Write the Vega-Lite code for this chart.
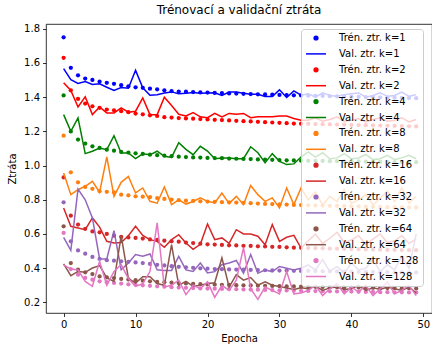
{
"$schema": "https://vega.github.io/schema/vega-lite/v6.json",
"autosize": "none",
"width": 386, "height": 289,
"padding": {"left": 46, "top": 24, "right": 0, "bottom": 33},
"background": "white",
"title": {"text": "Trénovací a validační ztráta", "font": "DejaVu Sans", "fontSize": 12, "fontWeight": "normal", "color": "black", "offset": 7, "anchor": "middle", "frame": "group"},
"data": {"values": [
{"s":"t1","e":0,"v":1.75},{"s":"t1","e":1,"v":1.572},{"s":"t1","e":2,"v":1.528},{"s":"t1","e":3,"v":1.509},{"s":"t1","e":4,"v":1.501},{"s":"t1","e":5,"v":1.491},{"s":"t1","e":6,"v":1.484},{"s":"t1","e":7,"v":1.478},{"s":"t1","e":8,"v":1.47},{"s":"t1","e":9,"v":1.464},{"s":"t1","e":10,"v":1.458},{"s":"t1","e":11,"v":1.455},{"s":"t1","e":12,"v":1.45},{"s":"t1","e":13,"v":1.446},{"s":"t1","e":14,"v":1.44},{"s":"t1","e":15,"v":1.435},{"s":"t1","e":16,"v":1.433},{"s":"t1","e":17,"v":1.432},{"s":"t1","e":18,"v":1.43},{"s":"t1","e":19,"v":1.428},{"s":"t1","e":20,"v":1.427},{"s":"t1","e":21,"v":1.425},{"s":"t1","e":22,"v":1.424},{"s":"t1","e":23,"v":1.422},{"s":"t1","e":24,"v":1.421},{"s":"t1","e":25,"v":1.42},{"s":"t1","e":26,"v":1.418},{"s":"t1","e":27,"v":1.417},{"s":"t1","e":28,"v":1.416},{"s":"t1","e":29,"v":1.415},{"s":"t1","e":30,"v":1.413},{"s":"t1","e":31,"v":1.412},{"s":"t1","e":32,"v":1.411},{"s":"t1","e":33,"v":1.41},{"s":"t1","e":34,"v":1.409},{"s":"t1","e":35,"v":1.408},{"s":"t1","e":36,"v":1.407},{"s":"t1","e":37,"v":1.406},{"s":"t1","e":38,"v":1.405},{"s":"t1","e":39,"v":1.404},{"s":"t1","e":40,"v":1.403},{"s":"t1","e":41,"v":1.402},{"s":"t1","e":42,"v":1.401},{"s":"t1","e":43,"v":1.4},{"s":"t1","e":44,"v":1.399},{"s":"t1","e":45,"v":1.398},{"s":"t1","e":46,"v":1.397},{"s":"t1","e":47,"v":1.396},{"s":"t1","e":48,"v":1.395},{"s":"t1","e":49,"v":1.394},
{"s":"v1","e":0,"v":1.567},{"s":"v1","e":1,"v":1.503},{"s":"v1","e":2,"v":1.48},{"s":"v1","e":3,"v":1.491},{"s":"v1","e":4,"v":1.474},{"s":"v1","e":5,"v":1.478},{"s":"v1","e":6,"v":1.458},{"s":"v1","e":7,"v":1.439},{"s":"v1","e":8,"v":1.456},{"s":"v1","e":9,"v":1.452},{"s":"v1","e":10,"v":1.557},{"s":"v1","e":11,"v":1.455},{"s":"v1","e":12,"v":1.411},{"s":"v1","e":13,"v":1.414},{"s":"v1","e":14,"v":1.425},{"s":"v1","e":15,"v":1.431},{"s":"v1","e":16,"v":1.42},{"s":"v1","e":17,"v":1.423},{"s":"v1","e":18,"v":1.428},{"s":"v1","e":19,"v":1.423},{"s":"v1","e":20,"v":1.425},{"s":"v1","e":21,"v":1.426},{"s":"v1","e":22,"v":1.41},{"s":"v1","e":23,"v":1.43},{"s":"v1","e":24,"v":1.43},{"s":"v1","e":25,"v":1.423},{"s":"v1","e":26,"v":1.417},{"s":"v1","e":27,"v":1.417},{"s":"v1","e":28,"v":1.404},{"s":"v1","e":29,"v":1.404},{"s":"v1","e":30,"v":1.443},{"s":"v1","e":31,"v":1.398},{"s":"v1","e":32,"v":1.437},{"s":"v1","e":33,"v":1.412},{"s":"v1","e":34,"v":1.42},{"s":"v1","e":35,"v":1.4},{"s":"v1","e":36,"v":1.425},{"s":"v1","e":37,"v":1.41},{"s":"v1","e":38,"v":1.405},{"s":"v1","e":39,"v":1.415},{"s":"v1","e":40,"v":1.42},{"s":"v1","e":41,"v":1.425},{"s":"v1","e":42,"v":1.4},{"s":"v1","e":43,"v":1.41},{"s":"v1","e":44,"v":1.425},{"s":"v1","e":45,"v":1.405},{"s":"v1","e":46,"v":1.41},{"s":"v1","e":47,"v":1.43},{"s":"v1","e":48,"v":1.405},{"s":"v1","e":49,"v":1.415},
{"s":"t2","e":0,"v":1.63},{"s":"t2","e":1,"v":1.44},{"s":"t2","e":2,"v":1.39},{"s":"t2","e":3,"v":1.363},{"s":"t2","e":4,"v":1.347},{"s":"t2","e":5,"v":1.338},{"s":"t2","e":6,"v":1.328},{"s":"t2","e":7,"v":1.323},{"s":"t2","e":8,"v":1.318},{"s":"t2","e":9,"v":1.312},{"s":"t2","e":10,"v":1.304},{"s":"t2","e":11,"v":1.3},{"s":"t2","e":12,"v":1.294},{"s":"t2","e":13,"v":1.29},{"s":"t2","e":14,"v":1.283},{"s":"t2","e":15,"v":1.281},{"s":"t2","e":16,"v":1.278},{"s":"t2","e":17,"v":1.276},{"s":"t2","e":18,"v":1.274},{"s":"t2","e":19,"v":1.272},{"s":"t2","e":20,"v":1.27},{"s":"t2","e":21,"v":1.268},{"s":"t2","e":22,"v":1.266},{"s":"t2","e":23,"v":1.264},{"s":"t2","e":24,"v":1.262},{"s":"t2","e":25,"v":1.26},{"s":"t2","e":26,"v":1.258},{"s":"t2","e":27,"v":1.256},{"s":"t2","e":28,"v":1.254},{"s":"t2","e":29,"v":1.252},{"s":"t2","e":30,"v":1.25},{"s":"t2","e":31,"v":1.248},{"s":"t2","e":32,"v":1.246},{"s":"t2","e":33,"v":1.245},{"s":"t2","e":34,"v":1.244},{"s":"t2","e":35,"v":1.243},{"s":"t2","e":36,"v":1.242},{"s":"t2","e":37,"v":1.241},{"s":"t2","e":38,"v":1.24},{"s":"t2","e":39,"v":1.239},{"s":"t2","e":40,"v":1.238},{"s":"t2","e":41,"v":1.237},{"s":"t2","e":42,"v":1.236},{"s":"t2","e":43,"v":1.235},{"s":"t2","e":44,"v":1.234},{"s":"t2","e":45,"v":1.233},{"s":"t2","e":46,"v":1.232},{"s":"t2","e":47,"v":1.231},{"s":"t2","e":48,"v":1.23},{"s":"t2","e":49,"v":1.229},
{"s":"v2","e":0,"v":1.484},{"s":"v2","e":1,"v":1.439},{"s":"v2","e":2,"v":1.343},{"s":"v2","e":3,"v":1.402},{"s":"v2","e":4,"v":1.298},{"s":"v2","e":5,"v":1.343},{"s":"v2","e":6,"v":1.308},{"s":"v2","e":7,"v":1.308},{"s":"v2","e":8,"v":1.338},{"s":"v2","e":9,"v":1.312},{"s":"v2","e":10,"v":1.318},{"s":"v2","e":11,"v":1.396},{"s":"v2","e":12,"v":1.298},{"s":"v2","e":13,"v":1.298},{"s":"v2","e":14,"v":1.4},{"s":"v2","e":15,"v":1.351},{"s":"v2","e":16,"v":1.3},{"s":"v2","e":17,"v":1.29},{"s":"v2","e":18,"v":1.31},{"s":"v2","e":19,"v":1.285},{"s":"v2","e":20,"v":1.28},{"s":"v2","e":21,"v":1.305},{"s":"v2","e":22,"v":1.285},{"s":"v2","e":23,"v":1.305},{"s":"v2","e":24,"v":1.3},{"s":"v2","e":25,"v":1.305},{"s":"v2","e":26,"v":1.28},{"s":"v2","e":27,"v":1.285},{"s":"v2","e":28,"v":1.285},{"s":"v2","e":29,"v":1.285},{"s":"v2","e":30,"v":1.29},{"s":"v2","e":31,"v":1.29},{"s":"v2","e":32,"v":1.275},{"s":"v2","e":33,"v":1.265},{"s":"v2","e":34,"v":1.265},{"s":"v2","e":35,"v":1.28},{"s":"v2","e":36,"v":1.26},{"s":"v2","e":37,"v":1.27},{"s":"v2","e":38,"v":1.285},{"s":"v2","e":39,"v":1.26},{"s":"v2","e":40,"v":1.265},{"s":"v2","e":41,"v":1.275},{"s":"v2","e":42,"v":1.255},{"s":"v2","e":43,"v":1.27},{"s":"v2","e":44,"v":1.28},{"s":"v2","e":45,"v":1.26},{"s":"v2","e":46,"v":1.265},{"s":"v2","e":47,"v":1.28},{"s":"v2","e":48,"v":1.255},{"s":"v2","e":49,"v":1.27},
{"s":"t4","e":0,"v":1.41},{"s":"t4","e":1,"v":1.2},{"s":"t4","e":2,"v":1.152},{"s":"t4","e":3,"v":1.129},{"s":"t4","e":4,"v":1.113},{"s":"t4","e":5,"v":1.103},{"s":"t4","e":6,"v":1.093},{"s":"t4","e":7,"v":1.087},{"s":"t4","e":8,"v":1.08},{"s":"t4","e":9,"v":1.076},{"s":"t4","e":10,"v":1.072},{"s":"t4","e":11,"v":1.068},{"s":"t4","e":12,"v":1.064},{"s":"t4","e":13,"v":1.061},{"s":"t4","e":14,"v":1.058},{"s":"t4","e":15,"v":1.055},{"s":"t4","e":16,"v":1.052},{"s":"t4","e":17,"v":1.05},{"s":"t4","e":18,"v":1.048},{"s":"t4","e":19,"v":1.047},{"s":"t4","e":20,"v":1.045},{"s":"t4","e":21,"v":1.044},{"s":"t4","e":22,"v":1.043},{"s":"t4","e":23,"v":1.041},{"s":"t4","e":24,"v":1.04},{"s":"t4","e":25,"v":1.039},{"s":"t4","e":26,"v":1.038},{"s":"t4","e":27,"v":1.036},{"s":"t4","e":28,"v":1.035},{"s":"t4","e":29,"v":1.034},{"s":"t4","e":30,"v":1.032},{"s":"t4","e":31,"v":1.031},{"s":"t4","e":32,"v":1.03},{"s":"t4","e":33,"v":1.029},{"s":"t4","e":34,"v":1.028},{"s":"t4","e":35,"v":1.028},{"s":"t4","e":36,"v":1.027},{"s":"t4","e":37,"v":1.026},{"s":"t4","e":38,"v":1.026},{"s":"t4","e":39,"v":1.025},{"s":"t4","e":40,"v":1.025},{"s":"t4","e":41,"v":1.024},{"s":"t4","e":42,"v":1.023},{"s":"t4","e":43,"v":1.023},{"s":"t4","e":44,"v":1.022},{"s":"t4","e":45,"v":1.022},{"s":"t4","e":46,"v":1.021},{"s":"t4","e":47,"v":1.021},{"s":"t4","e":48,"v":1.02},{"s":"t4","e":49,"v":1.02},
{"s":"v4","e":0,"v":1.298},{"s":"v4","e":1,"v":1.2},{"s":"v4","e":2,"v":1.279},{"s":"v4","e":3,"v":1.07},{"s":"v4","e":4,"v":1.084},{"s":"v4","e":5,"v":1.103},{"s":"v4","e":6,"v":1.093},{"s":"v4","e":7,"v":1.175},{"s":"v4","e":8,"v":1.074},{"s":"v4","e":9,"v":1.074},{"s":"v4","e":10,"v":1.041},{"s":"v4","e":11,"v":1.069},{"s":"v4","e":12,"v":1.063},{"s":"v4","e":13,"v":1.084},{"s":"v4","e":14,"v":1.054},{"s":"v4","e":15,"v":1.048},{"s":"v4","e":16,"v":1.134},{"s":"v4","e":17,"v":1.095},{"s":"v4","e":18,"v":1.064},{"s":"v4","e":19,"v":1.113},{"s":"v4","e":20,"v":1.085},{"s":"v4","e":21,"v":1.04},{"s":"v4","e":22,"v":1.045},{"s":"v4","e":23,"v":1.045},{"s":"v4","e":24,"v":1.04},{"s":"v4","e":25,"v":1.04},{"s":"v4","e":26,"v":1.11},{"s":"v4","e":27,"v":1.075},{"s":"v4","e":28,"v":1.016},{"s":"v4","e":29,"v":1.07},{"s":"v4","e":30,"v":1.025},{"s":"v4","e":31,"v":1.006},{"s":"v4","e":32,"v":1.01},{"s":"v4","e":33,"v":1.05},{"s":"v4","e":34,"v":1.08},{"s":"v4","e":35,"v":1.05},{"s":"v4","e":36,"v":1.075},{"s":"v4","e":37,"v":1.04},{"s":"v4","e":38,"v":1.045},{"s":"v4","e":39,"v":1.07},{"s":"v4","e":40,"v":1.04},{"s":"v4","e":41,"v":1.045},{"s":"v4","e":42,"v":1.065},{"s":"v4","e":43,"v":1.035},{"s":"v4","e":44,"v":1.04},{"s":"v4","e":45,"v":1.06},{"s":"v4","e":46,"v":1.035},{"s":"v4","e":47,"v":1.045},{"s":"v4","e":48,"v":1.06},{"s":"v4","e":49,"v":1.04},
{"s":"t8","e":0,"v":1.175},{"s":"t8","e":1,"v":0.961},{"s":"t8","e":2,"v":0.902},{"s":"t8","e":3,"v":0.875},{"s":"t8","e":4,"v":0.864},{"s":"t8","e":5,"v":0.85},{"s":"t8","e":6,"v":0.847},{"s":"t8","e":7,"v":0.843},{"s":"t8","e":8,"v":0.83},{"s":"t8","e":9,"v":0.826},{"s":"t8","e":10,"v":0.82},{"s":"t8","e":11,"v":0.818},{"s":"t8","e":12,"v":0.815},{"s":"t8","e":13,"v":0.81},{"s":"t8","e":14,"v":0.805},{"s":"t8","e":15,"v":0.801},{"s":"t8","e":16,"v":0.798},{"s":"t8","e":17,"v":0.795},{"s":"t8","e":18,"v":0.793},{"s":"t8","e":19,"v":0.791},{"s":"t8","e":20,"v":0.79},{"s":"t8","e":21,"v":0.788},{"s":"t8","e":22,"v":0.786},{"s":"t8","e":23,"v":0.785},{"s":"t8","e":24,"v":0.784},{"s":"t8","e":25,"v":0.782},{"s":"t8","e":26,"v":0.78},{"s":"t8","e":27,"v":0.778},{"s":"t8","e":28,"v":0.776},{"s":"t8","e":29,"v":0.775},{"s":"t8","e":30,"v":0.773},{"s":"t8","e":31,"v":0.772},{"s":"t8","e":32,"v":0.77},{"s":"t8","e":33,"v":0.769},{"s":"t8","e":34,"v":0.768},{"s":"t8","e":35,"v":0.767},{"s":"t8","e":36,"v":0.766},{"s":"t8","e":37,"v":0.765},{"s":"t8","e":38,"v":0.764},{"s":"t8","e":39,"v":0.763},{"s":"t8","e":40,"v":0.762},{"s":"t8","e":41,"v":0.761},{"s":"t8","e":42,"v":0.76},{"s":"t8","e":43,"v":0.759},{"s":"t8","e":44,"v":0.758},{"s":"t8","e":45,"v":0.757},{"s":"t8","e":46,"v":0.757},{"s":"t8","e":47,"v":0.756},{"s":"t8","e":48,"v":0.755},{"s":"t8","e":49,"v":0.755},
{"s":"v8","e":0,"v":0.957},{"s":"v8","e":1,"v":0.83},{"s":"v8","e":2,"v":0.859},{"s":"v8","e":3,"v":0.879},{"s":"v8","e":4,"v":0.908},{"s":"v8","e":5,"v":0.844},{"s":"v8","e":6,"v":1.051},{"s":"v8","e":7,"v":0.82},{"s":"v8","e":8,"v":0.902},{"s":"v8","e":9,"v":0.937},{"s":"v8","e":10,"v":0.84},{"s":"v8","e":11,"v":0.869},{"s":"v8","e":12,"v":0.791},{"s":"v8","e":13,"v":0.78},{"s":"v8","e":14,"v":0.875},{"s":"v8","e":15,"v":0.772},{"s":"v8","e":16,"v":0.8},{"s":"v8","e":17,"v":0.775},{"s":"v8","e":18,"v":0.79},{"s":"v8","e":19,"v":0.811},{"s":"v8","e":20,"v":0.791},{"s":"v8","e":21,"v":0.782},{"s":"v8","e":22,"v":0.84},{"s":"v8","e":23,"v":0.778},{"s":"v8","e":24,"v":0.82},{"s":"v8","e":25,"v":0.772},{"s":"v8","e":26,"v":0.883},{"s":"v8","e":27,"v":0.83},{"s":"v8","e":28,"v":0.791},{"s":"v8","e":29,"v":0.811},{"s":"v8","e":30,"v":0.752},{"s":"v8","e":31,"v":0.869},{"s":"v8","e":32,"v":0.772},{"s":"v8","e":33,"v":0.869},{"s":"v8","e":34,"v":0.8},{"s":"v8","e":35,"v":0.845},{"s":"v8","e":36,"v":0.77},{"s":"v8","e":37,"v":0.82},{"s":"v8","e":38,"v":0.79},{"s":"v8","e":39,"v":0.86},{"s":"v8","e":40,"v":0.78},{"s":"v8","e":41,"v":0.8},{"s":"v8","e":42,"v":0.83},{"s":"v8","e":43,"v":0.77},{"s":"v8","e":44,"v":0.81},{"s":"v8","e":45,"v":0.85},{"s":"v8","e":46,"v":0.79},{"s":"v8","e":47,"v":0.87},{"s":"v8","e":48,"v":0.78},{"s":"v8","e":49,"v":0.82},
{"s":"t16","e":0,"v":0.931},{"s":"t16","e":1,"v":0.707},{"s":"t16","e":2,"v":0.655},{"s":"t16","e":3,"v":0.63},{"s":"t16","e":4,"v":0.615},{"s":"t16","e":5,"v":0.61},{"s":"t16","e":6,"v":0.6},{"s":"t16","e":7,"v":0.59},{"s":"t16","e":8,"v":0.583},{"s":"t16","e":9,"v":0.58},{"s":"t16","e":10,"v":0.577},{"s":"t16","e":11,"v":0.573},{"s":"t16","e":12,"v":0.568},{"s":"t16","e":13,"v":0.565},{"s":"t16","e":14,"v":0.561},{"s":"t16","e":15,"v":0.557},{"s":"t16","e":16,"v":0.555},{"s":"t16","e":17,"v":0.55},{"s":"t16","e":18,"v":0.547},{"s":"t16","e":19,"v":0.543},{"s":"t16","e":20,"v":0.54},{"s":"t16","e":21,"v":0.538},{"s":"t16","e":22,"v":0.536},{"s":"t16","e":23,"v":0.534},{"s":"t16","e":24,"v":0.533},{"s":"t16","e":25,"v":0.531},{"s":"t16","e":26,"v":0.53},{"s":"t16","e":27,"v":0.528},{"s":"t16","e":28,"v":0.527},{"s":"t16","e":29,"v":0.525},{"s":"t16","e":30,"v":0.524},{"s":"t16","e":31,"v":0.522},{"s":"t16","e":32,"v":0.52},{"s":"t16","e":33,"v":0.519},{"s":"t16","e":34,"v":0.518},{"s":"t16","e":35,"v":0.517},{"s":"t16","e":36,"v":0.516},{"s":"t16","e":37,"v":0.515},{"s":"t16","e":38,"v":0.514},{"s":"t16","e":39,"v":0.513},{"s":"t16","e":40,"v":0.512},{"s":"t16","e":41,"v":0.511},{"s":"t16","e":42,"v":0.51},{"s":"t16","e":43,"v":0.509},{"s":"t16","e":44,"v":0.508},{"s":"t16","e":45,"v":0.507},{"s":"t16","e":46,"v":0.507},{"s":"t16","e":47,"v":0.506},{"s":"t16","e":48,"v":0.505},{"s":"t16","e":49,"v":0.505},
{"s":"v16","e":0,"v":0.752},{"s":"v16","e":1,"v":0.645},{"s":"v16","e":2,"v":0.635},{"s":"v16","e":3,"v":0.625},{"s":"v16","e":4,"v":0.694},{"s":"v16","e":5,"v":0.64},{"s":"v16","e":6,"v":0.557},{"s":"v16","e":7,"v":0.547},{"s":"v16","e":8,"v":0.55},{"s":"v16","e":9,"v":0.59},{"s":"v16","e":10,"v":0.645},{"s":"v16","e":11,"v":0.592},{"s":"v16","e":12,"v":0.567},{"s":"v16","e":13,"v":0.557},{"s":"v16","e":14,"v":0.522},{"s":"v16","e":15,"v":0.567},{"s":"v16","e":16,"v":0.596},{"s":"v16","e":17,"v":0.547},{"s":"v16","e":18,"v":0.51},{"s":"v16","e":19,"v":0.54},{"s":"v16","e":20,"v":0.659},{"s":"v16","e":21,"v":0.567},{"s":"v16","e":22,"v":0.577},{"s":"v16","e":23,"v":0.545},{"s":"v16","e":24,"v":0.625},{"s":"v16","e":25,"v":0.6},{"s":"v16","e":26,"v":0.6},{"s":"v16","e":27,"v":0.587},{"s":"v16","e":28,"v":0.537},{"s":"v16","e":29,"v":0.655},{"s":"v16","e":30,"v":0.557},{"s":"v16","e":31,"v":0.581},{"s":"v16","e":32,"v":0.592},{"s":"v16","e":33,"v":0.518},{"s":"v16","e":34,"v":0.56},{"s":"v16","e":35,"v":0.6},{"s":"v16","e":36,"v":0.545},{"s":"v16","e":37,"v":0.575},{"s":"v16","e":38,"v":0.61},{"s":"v16","e":39,"v":0.55},{"s":"v16","e":40,"v":0.565},{"s":"v16","e":41,"v":0.59},{"s":"v16","e":42,"v":0.54},{"s":"v16","e":43,"v":0.57},{"s":"v16","e":44,"v":0.6},{"s":"v16","e":45,"v":0.55},{"s":"v16","e":46,"v":0.56},{"s":"v16","e":47,"v":0.59},{"s":"v16","e":48,"v":0.545},{"s":"v16","e":49,"v":0.57},
{"s":"t32","e":0,"v":0.785},{"s":"t32","e":1,"v":0.557},{"s":"t32","e":2,"v":0.504},{"s":"t32","e":3,"v":0.485},{"s":"t32","e":4,"v":0.466},{"s":"t32","e":5,"v":0.454},{"s":"t32","e":6,"v":0.447},{"s":"t32","e":7,"v":0.444},{"s":"t32","e":8,"v":0.44},{"s":"t32","e":9,"v":0.437},{"s":"t32","e":10,"v":0.434},{"s":"t32","e":11,"v":0.43},{"s":"t32","e":12,"v":0.425},{"s":"t32","e":13,"v":0.42},{"s":"t32","e":14,"v":0.416},{"s":"t32","e":15,"v":0.412},{"s":"t32","e":16,"v":0.408},{"s":"t32","e":17,"v":0.405},{"s":"t32","e":18,"v":0.402},{"s":"t32","e":19,"v":0.399},{"s":"t32","e":20,"v":0.397},{"s":"t32","e":21,"v":0.395},{"s":"t32","e":22,"v":0.394},{"s":"t32","e":23,"v":0.393},{"s":"t32","e":24,"v":0.392},{"s":"t32","e":25,"v":0.391},{"s":"t32","e":26,"v":0.39},{"s":"t32","e":27,"v":0.389},{"s":"t32","e":28,"v":0.388},{"s":"t32","e":29,"v":0.387},{"s":"t32","e":30,"v":0.386},{"s":"t32","e":31,"v":0.386},{"s":"t32","e":32,"v":0.385},{"s":"t32","e":33,"v":0.384},{"s":"t32","e":34,"v":0.384},{"s":"t32","e":35,"v":0.383},{"s":"t32","e":36,"v":0.382},{"s":"t32","e":37,"v":0.382},{"s":"t32","e":38,"v":0.381},{"s":"t32","e":39,"v":0.38},{"s":"t32","e":40,"v":0.38},{"s":"t32","e":41,"v":0.379},{"s":"t32","e":42,"v":0.378},{"s":"t32","e":43,"v":0.378},{"s":"t32","e":44,"v":0.377},{"s":"t32","e":45,"v":0.377},{"s":"t32","e":46,"v":0.376},{"s":"t32","e":47,"v":0.376},{"s":"t32","e":48,"v":0.375},{"s":"t32","e":49,"v":0.375},
{"s":"v32","e":0,"v":0.58},{"s":"v32","e":1,"v":0.504},{"s":"v32","e":2,"v":0.862},{"s":"v32","e":3,"v":0.8},{"s":"v32","e":4,"v":0.694},{"s":"v32","e":5,"v":0.454},{"s":"v32","e":6,"v":0.454},{"s":"v32","e":7,"v":0.62},{"s":"v32","e":8,"v":0.391},{"s":"v32","e":9,"v":0.43},{"s":"v32","e":10,"v":0.48},{"s":"v32","e":11,"v":0.47},{"s":"v32","e":12,"v":0.483},{"s":"v32","e":13,"v":0.391},{"s":"v32","e":14,"v":0.387},{"s":"v32","e":15,"v":0.387},{"s":"v32","e":16,"v":0.469},{"s":"v32","e":17,"v":0.39},{"s":"v32","e":18,"v":0.381},{"s":"v32","e":19,"v":0.43},{"s":"v32","e":20,"v":0.372},{"s":"v32","e":21,"v":0.38},{"s":"v32","e":22,"v":0.42},{"s":"v32","e":23,"v":0.43},{"s":"v32","e":24,"v":0.445},{"s":"v32","e":25,"v":0.37},{"s":"v32","e":26,"v":0.48},{"s":"v32","e":27,"v":0.37},{"s":"v32","e":28,"v":0.39},{"s":"v32","e":29,"v":0.38},{"s":"v32","e":30,"v":0.41},{"s":"v32","e":31,"v":0.4},{"s":"v32","e":32,"v":0.39},{"s":"v32","e":33,"v":0.4},{"s":"v32","e":34,"v":0.42},{"s":"v32","e":35,"v":0.39},{"s":"v32","e":36,"v":0.45},{"s":"v32","e":37,"v":0.38},{"s":"v32","e":38,"v":0.41},{"s":"v32","e":39,"v":0.37},{"s":"v32","e":40,"v":0.43},{"s":"v32","e":41,"v":0.39},{"s":"v32","e":42,"v":0.4},{"s":"v32","e":43,"v":0.45},{"s":"v32","e":44,"v":0.38},{"s":"v32","e":45,"v":0.42},{"s":"v32","e":46,"v":0.39},{"s":"v32","e":47,"v":0.47},{"s":"v32","e":48,"v":0.4},{"s":"v32","e":49,"v":0.6},
{"s":"t64","e":0,"v":0.645},{"s":"t64","e":1,"v":0.43},{"s":"t64","e":2,"v":0.391},{"s":"t64","e":3,"v":0.376},{"s":"t64","e":4,"v":0.366},{"s":"t64","e":5,"v":0.352},{"s":"t64","e":6,"v":0.347},{"s":"t64","e":7,"v":0.342},{"s":"t64","e":8,"v":0.337},{"s":"t64","e":9,"v":0.334},{"s":"t64","e":10,"v":0.33},{"s":"t64","e":11,"v":0.327},{"s":"t64","e":12,"v":0.323},{"s":"t64","e":13,"v":0.32},{"s":"t64","e":14,"v":0.318},{"s":"t64","e":15,"v":0.315},{"s":"t64","e":16,"v":0.313},{"s":"t64","e":17,"v":0.311},{"s":"t64","e":18,"v":0.309},{"s":"t64","e":19,"v":0.307},{"s":"t64","e":20,"v":0.305},{"s":"t64","e":21,"v":0.304},{"s":"t64","e":22,"v":0.303},{"s":"t64","e":23,"v":0.302},{"s":"t64","e":24,"v":0.301},{"s":"t64","e":25,"v":0.3},{"s":"t64","e":26,"v":0.299},{"s":"t64","e":27,"v":0.298},{"s":"t64","e":28,"v":0.297},{"s":"t64","e":29,"v":0.296},{"s":"t64","e":30,"v":0.295},{"s":"t64","e":31,"v":0.294},{"s":"t64","e":32,"v":0.293},{"s":"t64","e":33,"v":0.292},{"s":"t64","e":34,"v":0.291},{"s":"t64","e":35,"v":0.291},{"s":"t64","e":36,"v":0.29},{"s":"t64","e":37,"v":0.289},{"s":"t64","e":38,"v":0.289},{"s":"t64","e":39,"v":0.288},{"s":"t64","e":40,"v":0.287},{"s":"t64","e":41,"v":0.287},{"s":"t64","e":42,"v":0.286},{"s":"t64","e":43,"v":0.285},{"s":"t64","e":44,"v":0.285},{"s":"t64","e":45,"v":0.284},{"s":"t64","e":46,"v":0.284},{"s":"t64","e":47,"v":0.283},{"s":"t64","e":48,"v":0.283},{"s":"t64","e":49,"v":0.282},
{"s":"v64","e":0,"v":0.425},{"s":"v64","e":1,"v":0.356},{"s":"v64","e":2,"v":0.381},{"s":"v64","e":3,"v":0.376},{"s":"v64","e":4,"v":0.401},{"s":"v64","e":5,"v":0.415},{"s":"v64","e":6,"v":0.343},{"s":"v64","e":7,"v":0.323},{"s":"v64","e":8,"v":0.59},{"s":"v64","e":9,"v":0.34},{"s":"v64","e":10,"v":0.313},{"s":"v64","e":11,"v":0.35},{"s":"v64","e":12,"v":0.35},{"s":"v64","e":13,"v":0.31},{"s":"v64","e":14,"v":0.3},{"s":"v64","e":15,"v":0.538},{"s":"v64","e":16,"v":0.3},{"s":"v64","e":17,"v":0.323},{"s":"v64","e":18,"v":0.294},{"s":"v64","e":19,"v":0.3},{"s":"v64","e":20,"v":0.31},{"s":"v64","e":21,"v":0.315},{"s":"v64","e":22,"v":0.46},{"s":"v64","e":23,"v":0.29},{"s":"v64","e":24,"v":0.362},{"s":"v64","e":25,"v":0.33},{"s":"v64","e":26,"v":0.345},{"s":"v64","e":27,"v":0.3},{"s":"v64","e":28,"v":0.32},{"s":"v64","e":29,"v":0.3},{"s":"v64","e":30,"v":0.293},{"s":"v64","e":31,"v":0.284},{"s":"v64","e":32,"v":0.275},{"s":"v64","e":33,"v":0.285},{"s":"v64","e":34,"v":0.28},{"s":"v64","e":35,"v":0.295},{"s":"v64","e":36,"v":0.27},{"s":"v64","e":37,"v":0.285},{"s":"v64","e":38,"v":0.29},{"s":"v64","e":39,"v":0.275},{"s":"v64","e":40,"v":0.28},{"s":"v64","e":41,"v":0.3},{"s":"v64","e":42,"v":0.27},{"s":"v64","e":43,"v":0.285},{"s":"v64","e":44,"v":0.275},{"s":"v64","e":45,"v":0.29},{"s":"v64","e":46,"v":0.28},{"s":"v64","e":47,"v":0.27},{"s":"v64","e":48,"v":0.29},{"s":"v64","e":49,"v":0.255},
{"s":"t128","e":0,"v":0.606},{"s":"t128","e":1,"v":0.395},{"s":"t128","e":2,"v":0.362},{"s":"t128","e":3,"v":0.343},{"s":"t128","e":4,"v":0.333},{"s":"t128","e":5,"v":0.323},{"s":"t128","e":6,"v":0.318},{"s":"t128","e":7,"v":0.314},{"s":"t128","e":8,"v":0.31},{"s":"t128","e":9,"v":0.306},{"s":"t128","e":10,"v":0.303},{"s":"t128","e":11,"v":0.3},{"s":"t128","e":12,"v":0.297},{"s":"t128","e":13,"v":0.294},{"s":"t128","e":14,"v":0.292},{"s":"t128","e":15,"v":0.289},{"s":"t128","e":16,"v":0.287},{"s":"t128","e":17,"v":0.285},{"s":"t128","e":18,"v":0.284},{"s":"t128","e":19,"v":0.282},{"s":"t128","e":20,"v":0.281},{"s":"t128","e":21,"v":0.28},{"s":"t128","e":22,"v":0.279},{"s":"t128","e":23,"v":0.278},{"s":"t128","e":24,"v":0.277},{"s":"t128","e":25,"v":0.276},{"s":"t128","e":26,"v":0.275},{"s":"t128","e":27,"v":0.274},{"s":"t128","e":28,"v":0.273},{"s":"t128","e":29,"v":0.272},{"s":"t128","e":30,"v":0.271},{"s":"t128","e":31,"v":0.27},{"s":"t128","e":32,"v":0.269},{"s":"t128","e":33,"v":0.268},{"s":"t128","e":34,"v":0.267},{"s":"t128","e":35,"v":0.266},{"s":"t128","e":36,"v":0.265},{"s":"t128","e":37,"v":0.265},{"s":"t128","e":38,"v":0.264},{"s":"t128","e":39,"v":0.263},{"s":"t128","e":40,"v":0.263},{"s":"t128","e":41,"v":0.262},{"s":"t128","e":42,"v":0.261},{"s":"t128","e":43,"v":0.261},{"s":"t128","e":44,"v":0.26},{"s":"t128","e":45,"v":0.26},{"s":"t128","e":46,"v":0.259},{"s":"t128","e":47,"v":0.259},{"s":"t128","e":48,"v":0.258},{"s":"t128","e":49,"v":0.258},
{"s":"v128","e":0,"v":0.42},{"s":"v128","e":1,"v":0.395},{"s":"v128","e":2,"v":0.39},{"s":"v128","e":3,"v":0.323},{"s":"v128","e":4,"v":0.294},{"s":"v128","e":5,"v":0.44},{"s":"v128","e":6,"v":0.3},{"s":"v128","e":7,"v":0.381},{"s":"v128","e":8,"v":0.42},{"s":"v128","e":9,"v":0.34},{"s":"v128","e":10,"v":0.294},{"s":"v128","e":11,"v":0.31},{"s":"v128","e":12,"v":0.38},{"s":"v128","e":13,"v":0.665},{"s":"v128","e":14,"v":0.29},{"s":"v128","e":15,"v":0.3},{"s":"v128","e":16,"v":0.33},{"s":"v128","e":17,"v":0.245},{"s":"v128","e":18,"v":0.3},{"s":"v128","e":19,"v":0.28},{"s":"v128","e":20,"v":0.32},{"s":"v128","e":21,"v":0.229},{"s":"v128","e":22,"v":0.3},{"s":"v128","e":23,"v":0.27},{"s":"v128","e":24,"v":0.33},{"s":"v128","e":25,"v":0.52},{"s":"v128","e":26,"v":0.28},{"s":"v128","e":27,"v":0.218},{"s":"v128","e":28,"v":0.29},{"s":"v128","e":29,"v":0.27},{"s":"v128","e":30,"v":0.25},{"s":"v128","e":31,"v":0.38},{"s":"v128","e":32,"v":0.25},{"s":"v128","e":33,"v":0.255},{"s":"v128","e":34,"v":0.27},{"s":"v128","e":35,"v":0.3},{"s":"v128","e":36,"v":0.24},{"s":"v128","e":37,"v":0.28},{"s":"v128","e":38,"v":0.31},{"s":"v128","e":39,"v":0.25},{"s":"v128","e":40,"v":0.29},{"s":"v128","e":41,"v":0.26},{"s":"v128","e":42,"v":0.3},{"s":"v128","e":43,"v":0.24},{"s":"v128","e":44,"v":0.28},{"s":"v128","e":45,"v":0.32},{"s":"v128","e":46,"v":0.25},{"s":"v128","e":47,"v":0.27},{"s":"v128","e":48,"v":0.3},{"s":"v128","e":49,"v":0.24}
]},
"encoding": {
  "x": {"field": "e", "type": "quantitative", "title": "Epocha",
        "scale": {"domain": [-2.45, 51.2], "nice": false, "zero": false},
        "axis": {"values": [0, 10, 20, 30, 40, 50], "format": "d", "titlePadding": 4}},
  "y": {"field": "v", "type": "quantitative", "title": "Ztráta",
        "scale": {"domain": [0.138, 1.828], "nice": false, "zero": false},
        "axis": {"values": [0.2, 0.4, 0.6, 0.8, 1.0, 1.2, 1.4, 1.6, 1.8], "format": ".1f", "titlePadding": 6}},
  "color": {"field": "s", "type": "nominal",
    "scale": {"domain": ["t1","v1","t2","v2","t4","v4","t8","v8","t16","v16","t32","v32","t64","v64","t128","v128"],
              "range": ["#0000ff","#0000ff","#ff0000","#ff0000","#008000","#008000","#ff7f0e","#ff7f0e","#d62728","#d62728","#9467bd","#9467bd","#8c564b","#8c564b","#e377c2","#e377c2"]},
    "legend": {"title": null, "orient": "none", "legendX": 255, "legendY": 5,
      "labelExpr": "(indexof(datum.label, 't') == 0 ? 'Trén. ztr. k=' : 'Val. ztr. k=') + substring(datum.label, 1)",
      "labelFont": "DejaVu Sans", "labelFontSize": 10, "labelColor": "black", "labelOffset": 18,
      "fillColor": "rgba(255,255,255,0.8)", "strokeColor": "#cccccc", "cornerRadius": 3, "padding": 4,
      "rowPadding": 5.9, "symbolSize": 14, "symbolStrokeWidth": 1.5, "symbolOffset": 6}
  }
},
"layer": [
  {"transform": [{"filter": "indexof(datum.s, 't') == 0"}], "mark": {"type": "point", "filled": true, "size": 18, "opacity": 1},
   "encoding": {
     "shape": {"field": "s", "type": "nominal",
       "scale": {"domain": ["t1","v1","t2","v2","t4","v4","t8","v8","t16","v16","t32","v32","t64","v64","t128","v128"],
                 "range": ["circle","M-5.35,0H5.35","circle","M-5.35,0H5.35","circle","M-5.35,0H5.35","circle","M-5.35,0H5.35","circle","M-5.35,0H5.35","circle","M-5.35,0H5.35","circle","M-5.35,0H5.35","circle","M-5.35,0H5.35"]},
       "legend": {"title": null, "orient": "none", "legendX": 255, "legendY": 5,
         "labelExpr": "(indexof(datum.label, 't') == 0 ? 'Trén. ztr. k=' : 'Val. ztr. k=') + substring(datum.label, 1)",
         "labelFont": "DejaVu Sans", "labelFontSize": 10, "labelColor": "black", "labelOffset": 18,
         "fillColor": "rgba(255,255,255,0.8)", "strokeColor": "#cccccc", "cornerRadius": 3, "padding": 4,
         "rowPadding": 5.9, "symbolSize": 14, "symbolStrokeWidth": 1.5, "symbolOffset": 6}}
   }},
  {"transform": [{"filter": "indexof(datum.s, 'v') == 0"}], "mark": {"type": "line", "strokeWidth": 1.5}, "encoding": {}}
],
"config": {
  "font": "DejaVu Sans",
  "view": {"stroke": "black", "strokeWidth": 0.8},
  "axis": {"grid": false, "domain": false, "tickColor": "black", "tickSize": 3.5, "tickWidth": 0.8,
           "labelFont": "DejaVu Sans", "labelFontSize": 10, "labelColor": "black", "labelPadding": 3,
           "titleFont": "DejaVu Sans", "titleFontSize": 10, "titleFontWeight": "normal", "titleColor": "black"}
}
}
